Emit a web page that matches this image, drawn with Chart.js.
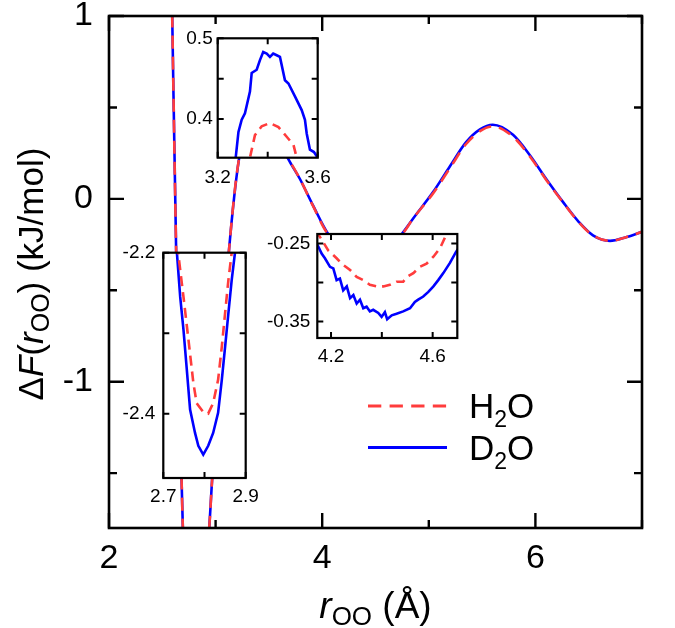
<!DOCTYPE html>
<html>
<head>
<meta charset="utf-8">
<script src="https://cdn.jsdelivr.net/npm/chart.js@4.4.1/dist/chart.umd.min.js"></script>
<style>
  html, body { margin: 0; padding: 0; background: #fff; }
  #wrap { position: relative; width: 675px; height: 628px; }
  #wrap canvas { position: absolute; left: 0; top: 0; }
</style>
</head>
<body>
<div id="wrap">
  <canvas id="main" width="675" height="628"></canvas>
  <canvas id="inBarrier" width="675" height="628"></canvas>
  <canvas id="inWell" width="675" height="628"></canvas>
  <canvas id="inTrough" width="675" height="628"></canvas>
</div>
<script>
/* ── data ── */
// main panel: free energy vs O–O distance
const rMain = [2.55, 2.593, 2.63, 2.681, 2.693, 2.733, 2.765, 2.80, 2.833, 2.874, 2.94, 2.967, 3.125, 3.22, 3.3, 3.4, 3.52, 3.68, 3.79, 3.915, 4.05, 4.2, 4.4, 4.6, 4.755, 4.85, 5.04, 5.2, 5.35, 5.48, 5.6, 5.79, 5.95, 6.1, 6.26, 6.41, 6.54, 6.7, 6.85, 7.0];
const fD2O = [2.5, 1.0, -0.285, -1.54, -1.8, -2.2, -2.395, -2.45, -2.40, -2.2, -1.8, -1.54, -0.285, 0.22, 0.40, 0.48, 0.42, 0.22, 0.11, -0.037, -0.186, -0.28, -0.34, -0.305, -0.186, -0.11, 0.037, 0.18, 0.31, 0.38, 0.405, 0.35, 0.237, 0.11, -0.018, -0.128, -0.2, -0.23, -0.21, -0.18];
const fH2O = [2.5, 1.0, -0.285, -1.54, -1.8, -2.18, -2.33, -2.40, -2.36, -2.18, -1.8, -1.54, -0.285, 0.22, 0.33, 0.395, 0.35, 0.22, 0.11, -0.04, -0.19, -0.26, -0.305, -0.27, -0.19, -0.11, 0.03, 0.17, 0.30, 0.37, 0.396, 0.34, 0.23, 0.105, -0.02, -0.13, -0.2, -0.23, -0.21, -0.18];
const mainXTicks = [2, 3, 4, 5, 6, 7];
const mainXLabels = ['2', '', '4', '', '6', ''];
const mainYTicks = [1, 0.5, 0, -0.5, -1, -1.5];
const mainYLabels = ['1', '', '0', '', '-1', ''];

// inset: first barrier
const rBarD2O = [3.265, 3.272, 3.283, 3.296, 3.309, 3.329, 3.336, 3.356, 3.369, 3.382, 3.396, 3.409, 3.422, 3.436, 3.449, 3.469, 3.483, 3.509, 3.536, 3.549, 3.556, 3.569, 3.585, 3.6];
const fBarD2O = [0.335, 0.352, 0.384, 0.399, 0.407, 0.434, 0.457, 0.461, 0.473, 0.483, 0.481, 0.477, 0.481, 0.479, 0.477, 0.448, 0.444, 0.428, 0.411, 0.399, 0.382, 0.362, 0.359, 0.352];
const rBarH2O = [3.322, 3.329, 3.349, 3.376, 3.409, 3.443, 3.476, 3.503, 3.516, 3.522];
const fBarH2O = [0.335, 0.352, 0.380, 0.391, 0.395, 0.390, 0.378, 0.368, 0.352, 0.340];
const barXTicks = [3.2, 3.4, 3.6];
const barXLabels = ['3.2', '', '3.6'];
const barYTicks = [0.4, 0.45, 0.5];
const barYLabels = ['0.4', '', '0.5'];

// inset: first minimum
const rWellD2O = [2.725, 2.733, 2.741, 2.749, 2.757, 2.765, 2.777, 2.785, 2.797, 2.809, 2.821, 2.833, 2.842, 2.850, 2.858, 2.866, 2.874, 2.882];
const fWellD2O = [-2.15, -2.2, -2.255, -2.296, -2.345, -2.395, -2.424, -2.44, -2.451, -2.44, -2.424, -2.399, -2.358, -2.317, -2.275, -2.234, -2.2, -2.15];
const rWellH2O = [2.728, 2.736, 2.749, 2.761, 2.773, 2.781, 2.797, 2.809, 2.821, 2.833, 2.842, 2.850, 2.858, 2.866, 2.874];
const fWellH2O = [-2.15, -2.2, -2.255, -2.308, -2.362, -2.387, -2.398, -2.4, -2.387, -2.358, -2.317, -2.275, -2.234, -2.2, -2.15];
const wellXTicks = [2.7, 2.8, 2.9];
const wellXLabels = ['2.7', '', '2.9'];
const wellYTicks = [-2.4, -2.3, -2.2];
const wellYLabels = ['-2.4', '', '-2.2'];

// inset: second minimum
const rTrD2O = [4.14, 4.150, 4.163, 4.176, 4.196, 4.209, 4.222, 4.235, 4.248, 4.262, 4.275, 4.288, 4.301, 4.314, 4.327, 4.340, 4.353, 4.366, 4.386, 4.399, 4.412, 4.421, 4.439, 4.458, 4.484, 4.511, 4.530, 4.543, 4.563, 4.583, 4.603, 4.622, 4.642, 4.668, 4.692, 4.70];
const fTrD2O = [-0.248, -0.254, -0.263, -0.269, -0.280, -0.282, -0.297, -0.295, -0.310, -0.305, -0.320, -0.316, -0.327, -0.322, -0.333, -0.331, -0.337, -0.335, -0.339, -0.344, -0.338, -0.347, -0.342, -0.340, -0.337, -0.333, -0.325, -0.322, -0.318, -0.312, -0.305, -0.297, -0.288, -0.275, -0.261, -0.257];
const rTrH2O = [4.14, 4.157, 4.189, 4.222, 4.242, 4.275, 4.301, 4.327, 4.353, 4.38, 4.406, 4.432, 4.458, 4.484, 4.498, 4.524, 4.55, 4.576, 4.603, 4.629, 4.655, 4.665];
const fTrH2O = [-0.234, -0.242, -0.259, -0.269, -0.276, -0.284, -0.293, -0.297, -0.303, -0.305, -0.305, -0.303, -0.299, -0.299, -0.293, -0.288, -0.280, -0.276, -0.267, -0.256, -0.238, -0.230];
const trXTicks = [4.2, 4.4, 4.6];
const trXLabels = ['4.2', '', '4.6'];
const trYTicks = [-0.35, -0.3, -0.25];
const trYLabels = ['-0.35', '', '-0.25'];

/* ── style ── */
const FONT = '"Liberation Sans", Arial, Helvetica, sans-serif';
const RED = '#ff3c3c';
const BLUE = '#0000ff';
const W = 675, H = 628;

const toPts = (xs, ys) => xs.map((x, i) => ({ x, y: ys[i] }));

// white plot area, full box and inward ticks on all four sides
const framePlugin = {
    id: 'frame',
    beforeDraw(chart, args, o) {
        const a = chart.chartArea, ctx = chart.ctx;
        ctx.save();
        ctx.fillStyle = '#fff';
        ctx.fillRect(a.left, a.top, a.right - a.left, a.bottom - a.top);
        ctx.restore();
    },
    afterDatasetsDraw(chart, args, o) {
        const a = chart.chartArea, ctx = chart.ctx;
        const xs = chart.scales.x, ys = chart.scales.y;
        ctx.save();
        ctx.strokeStyle = '#000';
        ctx.lineWidth = o.tickWidth;
        ctx.beginPath();
        o.xTicks.forEach((v, i) => {
            const p = xs.getPixelForValue(v);
            const len = o.xLabels[i] ? o.major : o.minor;
            ctx.moveTo(p, a.bottom); ctx.lineTo(p, a.bottom - len);
            ctx.moveTo(p, a.top); ctx.lineTo(p, a.top + len);
        });
        o.yTicks.forEach((v, i) => {
            const p = ys.getPixelForValue(v);
            const len = o.yLabels[i] ? o.major : o.minor;
            ctx.moveTo(a.left, p); ctx.lineTo(a.left + len, p);
            ctx.moveTo(a.right, p); ctx.lineTo(a.right - len, p);
        });
        ctx.stroke();
        ctx.lineWidth = o.boxWidth;
        ctx.strokeRect(a.left, a.top, a.right - a.left, a.bottom - a.top);
        ctx.restore();
    }
};

function axis(min, max, ticks, labels, fontSize, pad, fitKey, fitVal) {
    return {
        type: 'linear', min, max,
        afterBuildTicks: (s) => { s.ticks = ticks.map(v => ({ value: v })); },
        afterFit: (s) => {
            s[fitKey] = fitVal;
            s.paddingTop = 0; s.paddingBottom = 0; s.paddingLeft = 0; s.paddingRight = 0;
        },
        grid: { display: false, drawTicks: false },
        border: { display: false },
        ticks: {
            autoSkip: false, maxRotation: 0, padding: pad, color: '#000',
            font: { family: FONT, size: fontSize, lineHeight: 0.9 },
            callback: (v, i) => labels[i]
        }
    };
}

function lineDs(label, data, color, dash, width, smooth) {
    return {
        label, data, borderColor: color, backgroundColor: color, borderWidth: width,
        borderDash: dash, pointRadius: 0, fill: false,
        tension: 0, cubicInterpolationMode: smooth ? 'monotone' : 'default'
    };
}

/* ── main chart ── */
function drawRich(ctx, parts, cx, y) {
    let total = 0;
    parts.forEach(p => { ctx.font = p.font; total += ctx.measureText(p.t).width; });
    let x = cx - total / 2;
    parts.forEach(p => {
        ctx.font = p.font;
        ctx.fillText(p.t, x, y + (p.dy || 0));
        x += ctx.measureText(p.t).width;
    });
}

const decorPlugin = {
    id: 'decor',
    afterDraw(chart) {
        const ctx = chart.ctx, a = chart.chartArea;
        const nf = `37px ${FONT}`, itf = `italic 37px ${FONT}`, sf = `26px ${FONT}`;
        const ynf = `35px ${FONT}`, yitf = `italic 35px ${FONT}`, ysf = `25px ${FONT}`;
        ctx.save();
        ctx.fillStyle = '#000';
        ctx.textBaseline = 'alphabetic';
        // x title
        drawRich(ctx, [{ t: 'r', font: itf }, { t: 'OO', font: sf, dy: 7 }, { t: ' (Å)', font: nf }], (a.left + a.right) / 2, 618);
        // y title
        ctx.save();
        ctx.translate(43, 274);
        ctx.rotate(-Math.PI / 2);
        drawRich(ctx, [{ t: 'Δ', font: ynf }, { t: 'F', font: yitf }, { t: '(', font: ynf }, { t: 'r', font: yitf },
            { t: 'OO', font: ysf, dy: 6 }, { t: ') (kJ/mol)', font: ynf }], 0, 0);
        ctx.restore();
        // legend
        const items = [
            { color: RED, dash: [13.3, 8.3], y: 406, base: 418, name: ['H', '2', 'O'] },
            { color: BLUE, dash: [], y: 447.5, base: 460, name: ['D', '2', 'O'] }
        ];
        items.forEach(it => {
            ctx.save();
            ctx.strokeStyle = it.color; ctx.lineWidth = 3; ctx.setLineDash(it.dash);
            ctx.beginPath(); ctx.moveTo(368, it.y); ctx.lineTo(447, it.y); ctx.stroke();
            ctx.restore();
            let x = 469;
            [[it.name[0], `35px ${FONT}`, 0], [it.name[1], `23px ${FONT}`, 9], [it.name[2], `35px ${FONT}`, 0]].forEach(([t, f, dy]) => {
                ctx.font = f; ctx.fillText(t, x, it.base + dy); x += ctx.measureText(t).width;
            });
        });
        ctx.restore();
    }
};

new Chart(document.getElementById('main'), {
    type: 'line',
    data: {
        datasets: [
            lineDs('H2O', toPts(rMain, fH2O), RED, [13, 8], 2.6, true),
            lineDs('D2O', toPts(rMain, fD2O), BLUE, [], 2.6, true)
        ]
    },
    options: {
        responsive: false, animation: false, devicePixelRatio: 1,
        layout: { padding: { top: 16, right: 33, left: 0, bottom: 0 } },
        plugins: {
            legend: { display: false }, tooltip: { enabled: false },
            frame: { xTicks: mainXTicks, xLabels: mainXLabels, yTicks: mainYTicks, yLabels: mainYLabels, major: 15, minor: 8, tickWidth: 2.4, boxWidth: 2.6 }
        },
        scales: {
            x: axis(2, 7, mainXTicks, mainXLabels, 34, 15, 'height', 100),
            y: axis(-1.8, 1, mainYTicks, mainYLabels, 34, 16, 'width', 109)
        }
    },
    plugins: [framePlugin, decorPlugin]
});

/* ── insets ── */
function makeInset(id, box, xr, yr, xt, xl, yt, yl, xPad, yPad, ds) {
    const yw = 70, xh = 40;
    new Chart(document.getElementById(id), {
        type: 'line',
        data: { datasets: ds },
        options: {
            responsive: false, animation: false, devicePixelRatio: 1,
            layout: { padding: { left: box.l - yw, top: box.t, right: W - box.r, bottom: H - box.b - xh } },
            plugins: {
                legend: { display: false }, tooltip: { enabled: false },
                frame: { xTicks: xt, xLabels: xl.map(() => 'x'), yTicks: yt, yLabels: yl.map(() => 'x'), major: 6, minor: 6, tickWidth: 2, boxWidth: 2.2 }
            },
            scales: {
                x: axis(xr[0], xr[1], xt, xl, 19, xPad, 'height', xh),
                y: axis(yr[0], yr[1], yt, yl, 19, yPad, 'width', yw)
            }
        },
        plugins: [framePlugin]
    });
}

makeInset('inBarrier', { l: 217.7, t: 38.3, r: 317.7, b: 157.7 }, [3.2, 3.6], [0.352, 0.5],
    barXTicks, barXLabels, barYTicks, barYLabels, 12, 5, [
        lineDs('H2O', toPts(rBarH2O, fBarH2O), RED, [9, 6], 2.6, false),
        lineDs('D2O', toPts(rBarD2O, fBarD2O), BLUE, [], 2.6, false)
    ]);

makeInset('inWell', { l: 163.3, t: 252.7, r: 245.7, b: 478 }, [2.7, 2.9], [-2.48, -2.2],
    wellXTicks, wellXLabels, wellYTicks, wellYLabels, 10, 8, [
        lineDs('H2O', toPts(rWellH2O, fWellH2O), RED, [10, 6], 2.6, false),
        lineDs('D2O', toPts(rWellD2O, fWellD2O), BLUE, [], 2.6, false)
    ]);

makeInset('inTrough', { l: 317.3, t: 234, r: 457.3, b: 338 }, [4.146, 4.697], [-0.371, -0.238],
    trXTicks, trXLabels, trYTicks, trYLabels, 10, 7, [
        lineDs('H2O', toPts(rTrH2O, fTrH2O), RED, [9, 6], 2.6, false),
        lineDs('D2O', toPts(rTrD2O, fTrD2O), BLUE, [], 2.6, false)
    ]);
</script>
</body>
</html>
